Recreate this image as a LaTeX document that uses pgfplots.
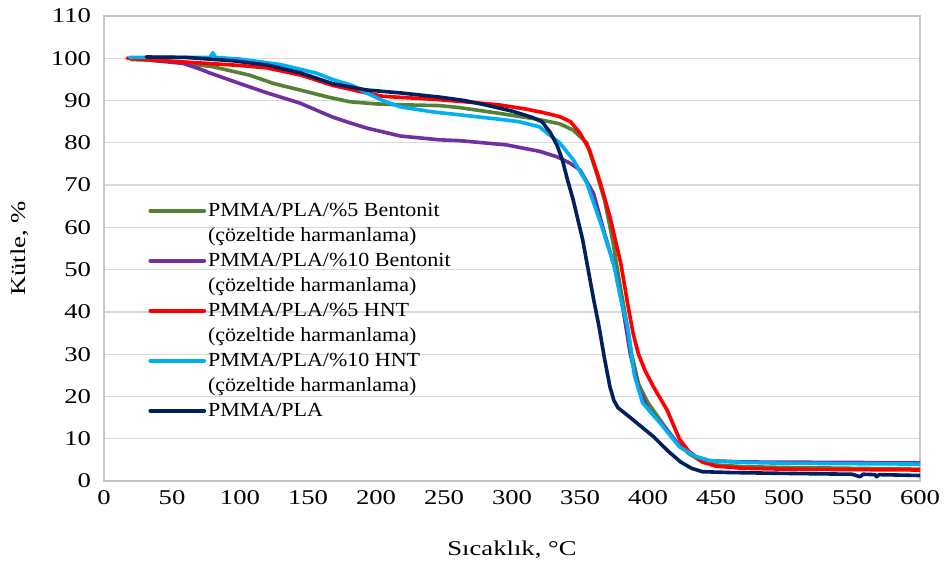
\documentclass[border=0pt]{standalone}
\usepackage{fontspec}
\setmainfont{Liberation Serif}
\newfontfamily\tickfont{Liberation Serif}[FakeStretch=1.27]
\newfontfamily\legfont{Liberation Serif}[FakeStretch=1.1]
\usepackage{pgfplots}
\pgfplotsset{compat=1.18}
\definecolor{cgreen}{HTML}{548235}
\definecolor{cpurple}{HTML}{7030A0}
\definecolor{cred}{HTML}{FF0000}
\definecolor{cblue}{HTML}{00B0F0}
\definecolor{cnavy}{HTML}{002060}
\begin{document}
\begin{tikzpicture}
\begin{axis}[
  name=ax,
  scale only axis, width=408pt, height=232.5pt,
  xmin=0, xmax=600, ymin=0, ymax=110,
  xtick={0,50,...,600}, ytick={0,10,...,110},
  major tick length=0pt,
  ymajorgrids, grid style={draw=gray!30, line width=0.6pt},
  axis line style={draw=gray!45, line width=0.6pt},
  tick label style={font=\tickfont\fontsize{10.5}{12}\selectfont, /pgf/number format/assume math mode=true},
  yticklabel style={xshift=-3pt},
  xticklabel style={yshift=-1pt},
  label style={font=\tickfont\fontsize{10.5}{12}\selectfont},
  xlabel={Sıcaklık, °C},
  ylabel={Kütle, \%},
  xlabel style={at={(axis description cs:0.5,-0.148)}, anchor=center},
  ylabel style={at={(axis description cs:-0.103,0.5)}, anchor=center},
  legend style={at={(0.054,0.609)}, anchor=north west, draw=none, fill=none,
    inner sep=0pt, row sep=0pt, font=\legfont\fontsize{10}{12}\selectfont,
    nodes={inner sep=1pt, text height=8pt, text depth=2.5pt}},
  legend cell align=left,
  legend image code/.code={\draw[#1] (0pt,0pt) -- (27pt,0pt);},
  every axis plot/.append style={line width=1.8pt, line join=round, line cap=round},
]
% PMMA/PLA/%5 Bentonit
\addplot[cgreen, forget plot] coordinates {
(20,99.7)(40,99.5)(60,98.8)(80,98)(107,96)(125,94)(144,92.5)(165,90.8)(181,89.7)
(200,89.2)(218,89)(247,88.8)(262,88.3)(290,87)(320,85.5)(335,84.5)(345,83)(355,80)
(362,73)(368,66.5)(374,57)(379,47)(384,38)(388,30)(393,23)(400,18.5)(409,14.4)
(420,9.5)(430,6.5)(440,4.5)(450,3.8)(470,3.4)(500,3.2)(550,3)(600,2.8)};
% PMMA/PLA/%10 Bentonit
\addplot[cpurple, forget plot] coordinates {
(35,99.5)(58,98.8)(70,97.5)(78,96.5)(100,94)(120,91.8)(144,89.4)(168,86.1)(181,84.7)
(193,83.5)(218,81.6)(247,80.7)(262,80.5)(296,79.5)(320,78)(333,76.7)(342,75.3)
(350,73.6)(360,68)(368,58.6)(376,50)(382,40)(387,30)(393,22)(400,17)(410,13.5)
(423,8.5)(435,5.8)(445,4.8)(470,4.5)(600,4.3)};
% PMMA/PLA/%5 HNT
\addplot[cred, forget plot] coordinates {
(17,100)(40,99.5)(70,98.9)(100,98.3)(120,97.7)(145,96)(168,93.6)(190,92)(205,91)
(242,90.3)(262,89.8)(290,89)(310,88)(325,87)(335,86.2)(343,85)(350,82.3)(357,78.3)
(365,70.5)(372,62.5)(380,51.5)(385,42)(389,35)(393,30)(398,26)(404,22.3)(414,16.8)
(423,10)(430,7)(440,4.5)(450,3.5)(470,3)(500,2.8)(600,2.6)};
% PMMA/PLA/%10 HNT
\addplot[cblue, forget plot] coordinates {
(19,100.2)(50,100.2)(78,100.2)(80,101.3)(82,100.2)(100,99.8)(130,98.5)(156,96.5)
(168,95)(183,93.5)(193,91.8)(205,90)(218,88.5)(242,87.3)(262,86.6)(290,85.6)
(305,85)(320,83.8)(335,80)(345,76)(355,70.5)(366,60.2)(375,51)(380,43)(385,36.5)
(390,25)(396,18.5)(409,13.7)(423,8.1)(435,5.8)(445,4.8)(470,4.4)(500,4.2)(600,4)};
% PMMA/PLA
\addplot[cnavy, forget plot] coordinates {
(31,100.3)(60,100.2)(95,99.4)(120,98.4)(145,96.5)(168,94)(193,92.5)(218,91.8)
(247,90.8)(265,90)(280,89)(300,87.5)(315,86)(322,85)(328,82.5)(333,79.5)(337,76)
(341,71)(345,66.5)(352,57)(356,50)(360,43)(364,36.5)(368,29)(372,22.3)(375,19)
(378,17.3)(387,15)(404,10.5)(415,7)(424,4.5)(432,3)(440,2.2)(460,2)(500,1.8)
(550,1.6)(556,1)(558,1.6)(567,1.5)(568,1)(570,1.5)(600,1.3)};
\addlegendimage{cgreen}\addlegendentry{PMMA/PLA/\%5 Bentonit}
\addlegendimage{draw opacity=0}\addlegendentry{(çözeltide harmanlama)}
\addlegendimage{cpurple}\addlegendentry{PMMA/PLA/\%10 Bentonit}
\addlegendimage{draw opacity=0}\addlegendentry{(çözeltide harmanlama)}
\addlegendimage{cred}\addlegendentry{PMMA/PLA/\%5 HNT}
\addlegendimage{draw opacity=0}\addlegendentry{(çözeltide harmanlama)}
\addlegendimage{cblue}\addlegendentry{PMMA/PLA/\%10 HNT}
\addlegendimage{draw opacity=0}\addlegendentry{(çözeltide harmanlama)}
\addlegendimage{cnavy}\addlegendentry{PMMA/PLA}
\end{axis}
\pgfresetboundingbox
\path (ax.south west) ++(-52pt,-44.5pt) rectangle ([xshift=12pt,yshift=8pt]ax.north east);
\end{tikzpicture}
\end{document}
